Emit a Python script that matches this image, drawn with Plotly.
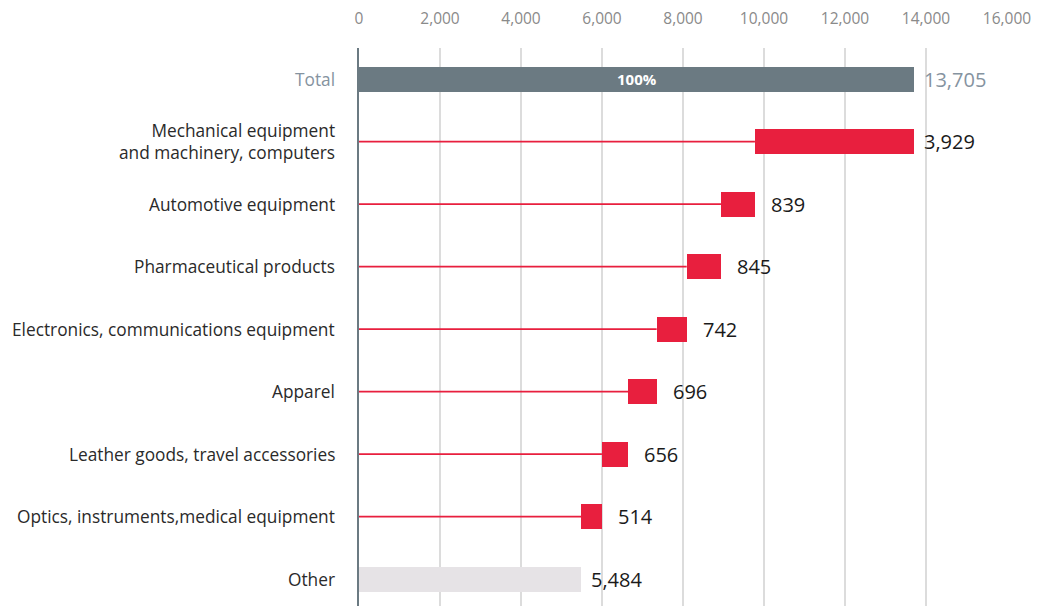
import plotly.graph_objects as go

categories = ["Total", "Mechanical equipment<br>and machinery, computers", "Automotive equipment",
              "Pharmaceutical products", "Electronics, communications equipment", "Apparel",
              "Leather goods, travel accessories", "Optics, instruments,medical equipment", "Other"]
values = [13705, 3929, 839, 845, 742, 696, 656, 514, 5484]
value_labels = ["13,705", "3,929", "839", "845", "742", "696", "656", "514", "5,484"]
tick_vals = [0, 2000, 4000, 6000, 8000, 10000, 12000, 14000, 16000]
tick_text = ["0", "2,000", "4,000", "6,000", "8,000", "10,000", "12,000", "14,000", "16,000"]

FONT = "Open Sans"
GRAY = "#6b7a82"
RED = "#e81f3e"
LIGHT = "#e6e3e6"

n = len(categories)
ypos = list(range(n))

bases = []
colors = []
running = values[0]
for i, v in enumerate(values):
    if i == 0:
        bases.append(0); colors.append(GRAY)
    elif i == n - 1:
        bases.append(0); colors.append(LIGHT)
    else:
        running -= v
        bases.append(running); colors.append(RED)

fig = go.Figure()

lx, ly = [], []
for i in range(1, n - 1):
    lx += [0, bases[i], None]
    ly += [i, i, None]
fig.add_trace(go.Scatter(x=lx, y=ly, mode="lines", line=dict(color=RED, width=1.8),
                         hoverinfo="skip", showlegend=False))

fig.add_trace(go.Bar(orientation="h", x=values, base=bases, y=ypos, width=0.4,
                     marker=dict(color=colors, line=dict(width=0)), showlegend=False))

for i in range(n):
    end = bases[i] + values[i]
    fig.add_annotation(x=end, y=i, text=value_labels[i], showarrow=False,
                       xanchor="left", yanchor="middle", xshift=8 if i in (0, 1, n - 1) else 14,
                       font=dict(family=FONT, size=20, color="#8593a0" if i == 0 else "#1a1a1a"))

fig.add_annotation(x=values[0] / 2, y=0, text="<b>100%</b>", showarrow=False,
                   font=dict(family=FONT, size=15, color="white"))

for i, c in enumerate(categories):
    fig.add_annotation(x=0, y=i, xref="x", yref="y", text=c, showarrow=False,
                       xanchor="right", yanchor="middle", xshift=-22, align="right",
                       font=dict(family=FONT, size=17.3, color="#8593a0" if i == 0 else "#2a2a2a"))

fig.update_layout(
    width=1037, height=606,
    margin=dict(l=359, r=30, t=48, b=0),
    plot_bgcolor="white", paper_bgcolor="white",
    bargap=0,
    xaxis=dict(side="top", range=[0, 16000], tickvals=tick_vals, ticktext=tick_text,
               showgrid=True, gridcolor="#dcdcdc", gridwidth=2, zeroline=False,
               showline=False, ticklabelstandoff=20,
               tickfont=dict(family=FONT, size=15.5, color="#8a8a8a")),
    yaxis=dict(range=[8.432, -0.5], tickvals=ypos, showticklabels=False,
               showgrid=False, zeroline=False, showline=True, linecolor=GRAY, linewidth=2),
)

fig.write_html("out.html")
